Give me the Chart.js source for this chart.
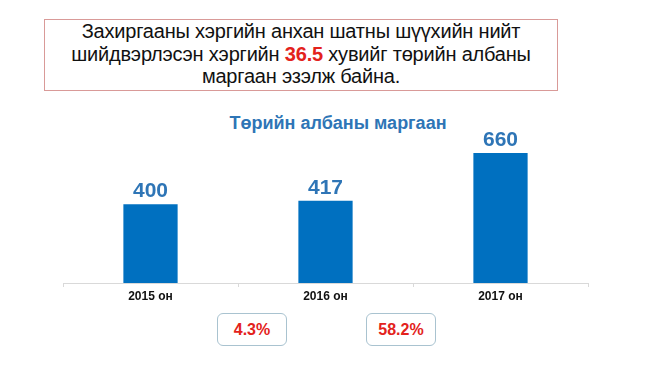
<!DOCTYPE html>
<html>
<head>
<meta charset="utf-8">
<script src="https://cdn.jsdelivr.net/npm/chart.js@4"></script>
<style>
  html,body{margin:0;padding:0;background:#fff;width:650px;height:365px;overflow:hidden;font-family:"Liberation Sans",Arial,sans-serif;}
  #head{position:absolute;left:44px;top:19px;width:512px;height:70px;border:1px solid #d99a98;text-align:center;font-size:20px;line-height:22.5px;letter-spacing:-0.2px;color:#111;box-sizing:content-box;}
  #head .inner{position:absolute;left:0;right:0;top:0px;}
  #head b{color:#e3221c;}
  #ctitle{position:absolute;left:188px;width:300px;top:113px;text-align:center;font-weight:bold;font-size:18px;color:#2e75b6;}
  #wrap{position:absolute;left:0;top:100px;width:650px;height:210px;}
  .pct{position:absolute;top:313px;height:33px;border:1.5px solid #a9c3d0;border-radius:6px;box-sizing:border-box;text-align:center;line-height:31px;font-weight:bold;font-size:16px;color:#e3221c;}
</style>
</head>
<body>
<div id="head"><div class="inner">Захиргааны хэргийн анхан шатны шүүхийн нийт<br>шийдвэрлэсэн хэргийн <b>36.5</b> хувийг төрийн албаны<br>маргаан эзэлж байна.</div></div>
<div id="ctitle">Төрийн албаны маргаан</div>
<div id="wrap"><canvas id="c" width="650" height="210"></canvas></div>
<div id="pcts"></div>
<script>
const categories = ['2015 он', '2016 он', '2017 он'];
const values = [400, 417, 660];
const changes = ['4.3%', '58.2%'];

const pctBoxes = [{left:217,width:70},{left:366,width:70}];
const pc = document.getElementById('pcts');
changes.forEach((t,i)=>{
  const d=document.createElement('div');
  d.className='pct';
  d.style.left=pctBoxes[i].left+'px';
  d.style.width=pctBoxes[i].width+'px';
  d.textContent=t;
  pc.appendChild(d);
});

const labelPlugin = {
  id:'vlabels',
  afterDatasetsDraw(chart){
    const ctx=chart.ctx;
    const meta=chart.getDatasetMeta(0);
    ctx.save();
    ctx.font='bold 21px "Liberation Sans", Arial, sans-serif';
    ctx.fillStyle='#2e75b6';
    ctx.textAlign='center';
    ctx.textBaseline='alphabetic';
    meta.data.forEach((bar,i)=>{
      ctx.fillText(String(chart.data.datasets[0].data[i]), bar.x, bar.y-7);
    });
    ctx.restore();
  }
};

new Chart(document.getElementById('c'), {
  type:'bar',
  data:{labels:categories,datasets:[{data:values,backgroundColor:'#0070c0',borderWidth:0,categoryPercentage:1,barPercentage:0.31}]},
  options:{
    responsive:false,
    animation:false,
    layout:{padding:{top:45,left:63,right:62,bottom:0}},
    plugins:{legend:{display:false},title:{display:false},tooltip:{enabled:false}},
    scales:{
      x:{
        grid:{display:true,drawOnChartArea:false,drawTicks:true,tickLength:4,color:'#d9d9d9'},
        border:{display:true,color:'#d9d9d9',width:1},
        ticks:{padding:2,color:'#111',font:{family:'"Liberation Sans", Arial, sans-serif',size:12,weight:'bold'}},
        afterFit(s){s.height=27;}
      },
      y:{display:false,min:0,max:700}
    }
  },
  plugins:[labelPlugin]
});
</script>
</body>
</html>
